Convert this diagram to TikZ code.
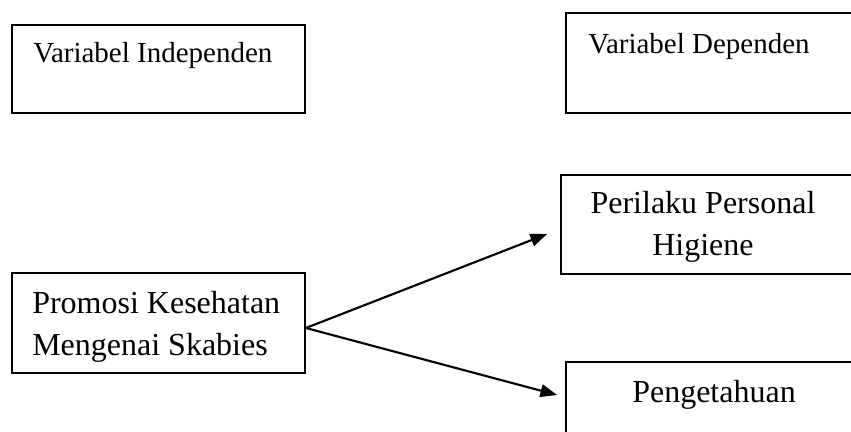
\documentclass[tikz,border=0pt]{standalone}
\usepackage{fontspec}
\setmainfont{Liberation Serif}
\usetikzlibrary{arrows.meta}

\begin{document}
\begin{tikzpicture}[x=0.75pt,y=-0.75pt,
        kotak/.style={draw,line width=1.3pt,inner sep=0pt},
        teks/.style={inner sep=0pt,font=\fontsize{21.75pt}{32pt}\selectfont},
        teksbesar/.style={inner sep=0pt,font=\fontsize{24pt}{31.5pt}\selectfont},
        panah/.style={-{Triangle[length=12.5pt,width=9.5pt]},line width=1.6pt}]
        \useasboundingbox (0,0) rectangle (851,432);
        \clip (0,0) rectangle (851,432);
        \foreach \n/\x/\y/\w/\h in {indep/158.5/69/219.75/66, dep/723/63/235.5/75,
            perilaku/720.5/224.5/239.25/74.25, promosi/158.5/323/219.75/75, tahu/723/421/235.5/88.5}
            \node[kotak,minimum width=\w pt,minimum height=\h pt] (\n) at (\x,\y) {};
        \node[teks,anchor=base west] (lbl-indep) at (33,62) {Variabel Independen};
        \node[teks,anchor=base west] (lbl-dep) at (588,53) {Variabel Dependen};
        \node[teksbesar,align=center] (lbl-perilaku) at (703,227) {Perilaku Personal\\Higiene};
        \node[teksbesar,align=left,anchor=west] (lbl-promosi) at (32,326.5) {Promosi Kesehatan\\Mengenai Skabies};
        \node[teksbesar,anchor=base] (lbl-tahu) at (714,402) {Pengetahuan};
        \draw[panah] ([yshift=-3.75pt]promosi.east) -- ([shift={(-13,9.5)}]perilaku.west);
        \draw[panah] ([yshift=-3.75pt]promosi.east) -- ([shift={(-8,-26)}]tahu.west);
    \end{tikzpicture}
\end{document}
